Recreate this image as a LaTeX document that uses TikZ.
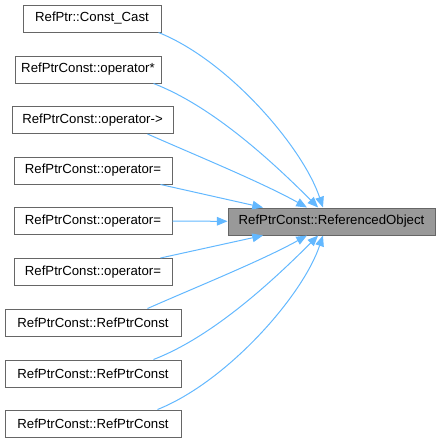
\documentclass[tikz,border=0pt]{standalone}
\usepackage{fontspec}
\setmainfont{Liberation Sans}
\usetikzlibrary{arrows.meta}
\definecolor{edgeblue}{HTML}{63B8FF}
\definecolor{boxgray}{HTML}{666666}
\definecolor{targetgray}{HTML}{999999}
\tikzset{
  caller/.style={draw=boxgray,fill=white,line width=0.75pt,inner xsep=2pt,minimum height=20.25pt,font=\fontsize{9.9}{12}\selectfont},
  target/.style={caller,fill=targetgray},
  call/.style={edgeblue,line width=0.75pt,-{Triangle[length=8pt,width=6.5pt]}}
}
\begin{document}
\begin{tikzpicture}[x=0.75pt,y=-0.75pt]
\useasboundingbox (0,0) rectangle (441,443);
%callers
\node[caller,minimum width=103.5pt] (castfn) at (92,18.5) {RefPtr::Const\_Cast};
\node[caller,minimum width=109.5pt] (deref) at (88,69.5) {RefPtrConst::operator*};
\node[caller,minimum width=120.75pt] (arrowop) at (92.5,120) {RefPtrConst::operator->};
\node[caller,minimum width=118.5pt] (assigna) at (93,170.5) {RefPtrConst::operator=};
\node[caller,minimum width=118.5pt] (assignb) at (93,221) {RefPtrConst::operator=};
\node[caller,minimum width=118.5pt] (assignc) at (93,272) {RefPtrConst::operator=};
\node[caller,minimum width=132pt] (ctora) at (93,322.5) {RefPtrConst::RefPtrConst};
\node[caller,minimum width=132pt] (ctorb) at (93,373.5) {RefPtrConst::RefPtrConst};
\node[caller,minimum width=132pt] (ctorc) at (93,423.5) {RefPtrConst::RefPtrConst};
%callee
\node[target,minimum width=155.25pt] (refobj) at (331.5,221.5) {RefPtrConst::ReferencedObject};
%edges
\draw[call] ([xshift=-2.25pt]castfn.south east) .. controls +(70,28) and +(-20,-60) .. ([xshift=-6.4pt]refobj.north);
\draw[call] ([xshift=-6pt]deref.south east) .. controls +(57,22) and +(-50,-50) .. ([xshift=-10pt]refobj.north);
\draw[call] ([xshift=-19.5pt]arrowop.south east) .. controls +(50,22) and +(-45,-25) .. ([xshift=-18.4pt]refobj.north);
\draw[call] ([xshift=-9pt]assigna.south east) -- ([xshift=-51.4pt]refobj.north);
\draw[call] (assignb) -- (refobj);
\draw[call] ([xshift=-9pt]assignc.north east) -- ([xshift=-51.4pt]refobj.south);
\draw[call] ([xshift=-25.5pt]ctora.north east) .. controls +(50,-22) and +(-45,25) .. ([xshift=-18.4pt]refobj.south);
\draw[call] ([xshift=-21pt]ctorb.north east) .. controls +(57,-22) and +(-50,50) .. ([xshift=-10pt]refobj.south);
\draw[call] ([xshift=-18pt]ctorc.north east) .. controls +(70,-28) and +(-20,60) .. ([xshift=-6.4pt]refobj.south);
\end{tikzpicture}
\end{document}
